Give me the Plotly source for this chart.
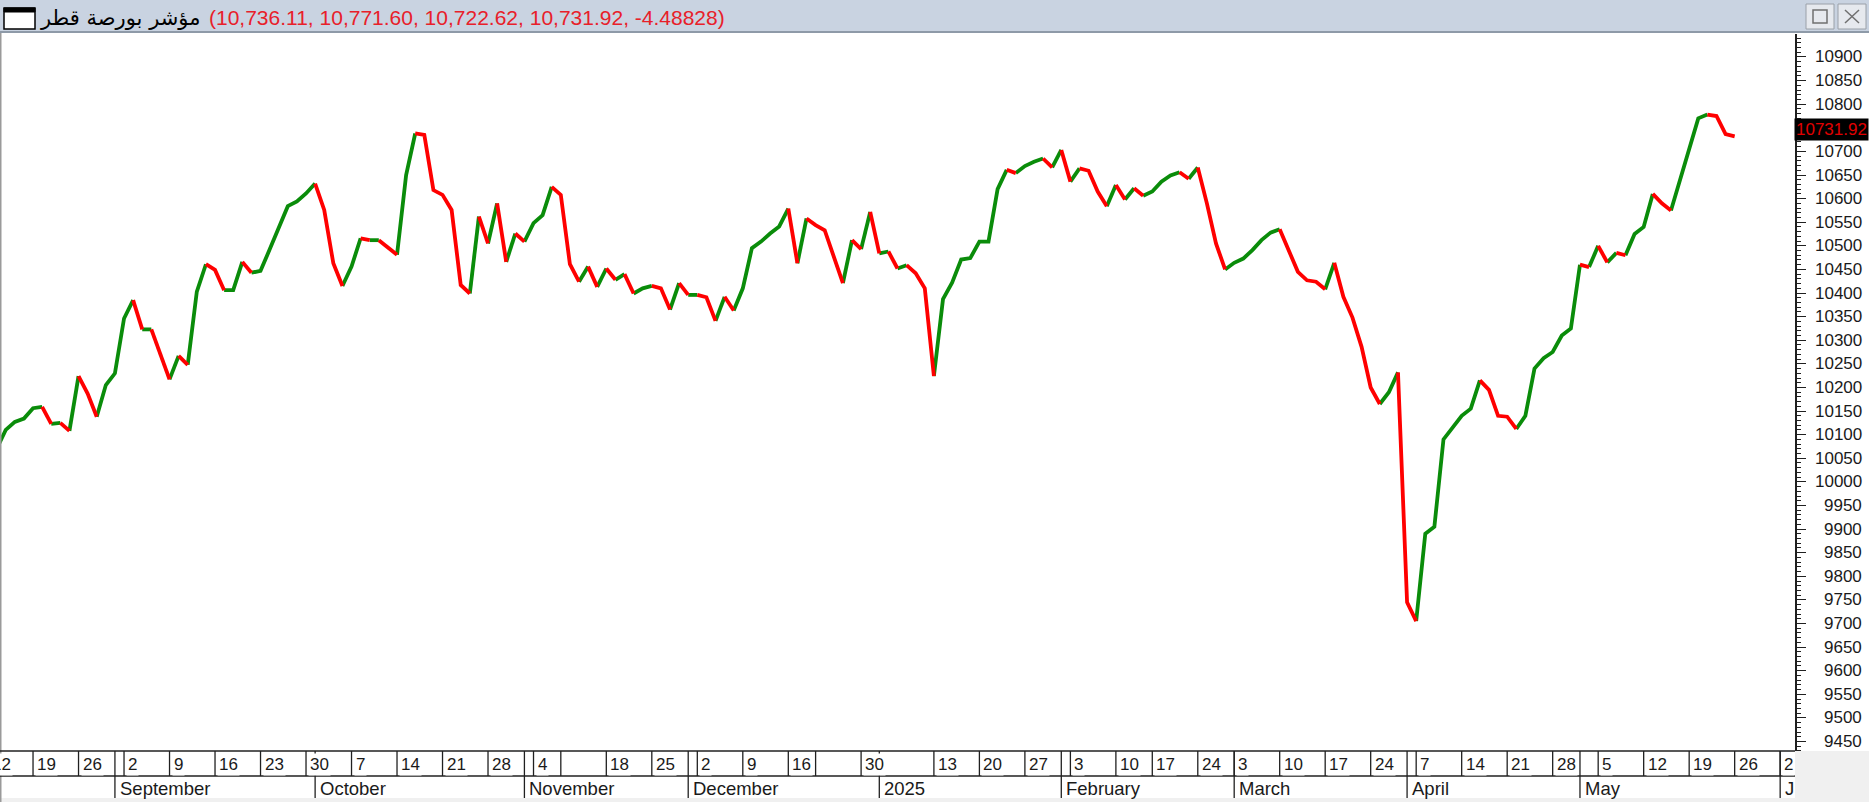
import plotly.graph_objects as go
import pandas as pd

# ---------------- data ----------------
# Qatar trading calendar (Sun-Thu), days absent from the chart
closed_days = ["2024-11-06", "2024-11-07", "2024-12-18", "2024-12-19",
               "2025-01-05", "2025-01-06", "2025-02-11", "2025-03-02",
               "2025-03-30", "2025-03-31", "2025-04-01", "2025-04-02", "2025-04-03"]
trading_days = pd.bdate_range("2024-08-12", "2025-05-26", freq="C",
                              weekmask="Sun Mon Tue Wed Thu", holidays=closed_days)
future_days = pd.bdate_range("2025-05-27", "2025-06-06", freq="C",
                             weekmask="Mon Tue Wed Thu Fri")
calendar = trading_days.append(future_days)

# daily closes from 2024-08-13 to 2025-05-26
close_values = [
    10070, 10110, 10127, 10134, 10156, 10159, 10123, 10125, 10108, 10224,
    10187, 10138, 10205, 10230, 10346, 10385, 10323, 10323, 10270, 10217,
    10267, 10248, 10403, 10461, 10449, 10406, 10406, 10466, 10443, 10447,
    10492, 10537, 10584, 10594, 10611, 10632, 10576, 10463, 10415, 10456,
    10516, 10512, 10512, 10497, 10481, 10650, 10738, 10735, 10618, 10608,
    10576, 10417, 10399, 10562, 10505, 10590, 10466, 10526, 10509, 10548,
    10565, 10625, 10608, 10461, 10424, 10456, 10413, 10452, 10428, 10440,
    10399, 10410, 10415, 10410, 10365, 10421, 10396, 10396, 10391, 10341,
    10392, 10363, 10410, 10495, 10509, 10526, 10541, 10579, 10463, 10558,
    10544, 10533, 10477, 10421, 10512, 10493, 10572, 10484, 10488, 10452,
    10459, 10442, 10410, 10224, 10387, 10422, 10471, 10474, 10509, 10509,
    10620, 10661, 10654, 10669, 10678, 10685, 10666, 10703, 10636, 10664,
    10659, 10615, 10584, 10629, 10598, 10622, 10606, 10615, 10636, 10649,
    10656, 10642, 10666, 10590, 10505, 10450, 10464, 10473, 10491, 10512,
    10528, 10535, 10491, 10445, 10427, 10424, 10408, 10464, 10392, 10348,
    10286, 10200, 10165, 10190, 10232, 9745, 9705, 9890, 9905, 10090,
    10115, 10140, 10155, 10215, 10195, 10140, 10138, 10112, 10140, 10240,
    10262, 10275, 10310, 10325, 10460, 10455, 10500, 10465, 10485, 10480,
    10525, 10540, 10610, 10590, 10575, 10640, 10705, 10770, 10778, 10775,
    10736.41, 10731.92,
]
first_index = 1  # position of the first close in the calendar

title_name = "مؤشر بورصة قطر"
title_values = "(10,736.11, 10,771.60, 10,722.62, 10,731.92, -4.48828)"
last_value = 10731.92
y_tick_values = list(range(9450, 10901, 50))
month_names = {1: "2025", 2: "February", 3: "March", 4: "April", 5: "May", 6: "J",
               8: "August", 9: "September", 10: "October", 11: "November", 12: "December"}

# ---------------- geometry ----------------
W, H = 1869, 802
PL, PR, PT, PB = 1, 1795, 34, 751
X_RANGE = [1.48, 198.63]
Y_RANGE = [9429.9, 10948.7]


def fx(px):
    return (px - PL) / (PR - PL)


def fy(py):
    return (PB - py) / (PB - PT)


def xi(i):  # data index -> paper x
    return (i - X_RANGE[0]) / (X_RANGE[1] - X_RANGE[0])


GREEN = "#0A8C0A"
RED = "#FF0000"

xs = list(range(first_index, first_index + len(close_values)))
gx, gy, rx, ry = [], [], [], []
for k in range(1, len(close_values)):
    up = close_values[k] >= close_values[k - 1]
    tx, ty = (gx, gy) if up else (rx, ry)
    if tx and tx[-1] == xs[k - 1]:
        tx.append(xs[k]); ty.append(close_values[k])
    else:
        if tx:
            tx.append(None); ty.append(None)
        tx += [xs[k - 1], xs[k]]
        ty += [close_values[k - 1], close_values[k]]

fig = go.Figure()
fig.add_trace(go.Scatter(x=gx, y=gy, mode="lines", line=dict(color=GREEN, width=3.8),
                         hoverinfo="skip", showlegend=False))
fig.add_trace(go.Scatter(x=rx, y=ry, mode="lines", line=dict(color=RED, width=3.8),
                         hoverinfo="skip", showlegend=False))

shapes = []
ann = []
AX_FONT = dict(family="Arial, Liberation Sans", size=17, color="#1a1a1a")
MONTH_FONT = dict(family="Arial, Liberation Sans", size=18.5, color="#1a1a1a")

# ---- backgrounds / frames ----
# title bar
shapes.append(dict(type="rect", xref="paper", yref="paper", x0=fx(0), x1=fx(W), y0=fy(31), y1=fy(0),
                   fillcolor="#C9D3E1", line=dict(width=0), layer="below"))
shapes.append(dict(type="line", xref="paper", yref="paper", x0=fx(0), x1=fx(W), y0=fy(32), y1=fy(32),
                   line=dict(color="#8E9AA8", width=2)))
# bottom / right grey panel
shapes.append(dict(type="rect", xref="paper", yref="paper", x0=fx(PR), x1=fx(W), y0=fy(H), y1=fy(PB),
                   fillcolor="#F0F0F0", line=dict(width=0), layer="below"))
shapes.append(dict(type="rect", xref="paper", yref="paper", x0=fx(0), x1=fx(W), y0=fy(H), y1=fy(798),
                   fillcolor="#F0F0F0", line=dict(width=0), layer="below"))
# left border
shapes.append(dict(type="line", xref="paper", yref="paper", x0=fx(0.5), x1=fx(0.5), y0=fy(H), y1=fy(33),
                   line=dict(color="#9A9A9A", width=2)))
# date rows frame
for yy in (PB, 776):
    shapes.append(dict(type="line", xref="paper", yref="paper", x0=fx(0), x1=fx(PR), y0=fy(yy), y1=fy(yy),
                       line=dict(color="#202020", width=1.5)))

# window icon
shapes.append(dict(type="rect", xref="paper", yref="paper", x0=fx(4), x1=fx(35), y0=fy(29), y1=fy(8),
                   fillcolor="white", line=dict(color="black", width=1.5)))
shapes.append(dict(type="rect", xref="paper", yref="paper", x0=fx(4), x1=fx(35), y0=fy(12), y1=fy(8),
                   fillcolor="black", line=dict(color="black", width=1)))
# window buttons
for bx0 in (1806, 1838):
    shapes.append(dict(type="rect", xref="paper", yref="paper", x0=fx(bx0), x1=fx(bx0 + 28),
                       y0=fy(29), y1=fy(4), fillcolor="#E6E9EE", line=dict(color="#9AA0A8", width=1)))
shapes.append(dict(type="rect", xref="paper", yref="paper", x0=fx(1813), x1=fx(1827), y0=fy(23), y1=fy(10),
                   fillcolor="rgba(0,0,0,0)", line=dict(color="#707070", width=1.5)))
shapes.append(dict(type="line", xref="paper", yref="paper", x0=fx(1845), x1=fx(1859), y0=fy(10), y1=fy(23),
                   line=dict(color="#707070", width=1.5)))
shapes.append(dict(type="line", xref="paper", yref="paper", x0=fx(1845), x1=fx(1859), y0=fy(23), y1=fy(10),
                   line=dict(color="#707070", width=1.5)))

# title texts
ann.append(dict(xref="paper", yref="paper", x=fx(38), y=fy(18), xanchor="left", yanchor="middle",
                text=title_name, showarrow=False,
                font=dict(family="DejaVu Sans", size=21, color="#000000")))
ann.append(dict(xref="paper", yref="paper", x=fx(207), y=fy(18), xanchor="left", yanchor="middle",
                text=title_values, showarrow=False,
                font=dict(family="Arial, Liberation Sans", size=21, color="#E8202A")))

# ---- date axis ----
idx = list(range(len(calendar)))
month_starts = [i for i in idx[1:] if calendar[i].month != calendar[i - 1].month]
for i in month_starts:
    shapes.append(dict(type="line", xref="paper", yref="paper", x0=xi(i), x1=xi(i), y0=fy(798), y1=fy(PB),
                       line=dict(color="#202020", width=1.3)))
    ann.append(dict(xref="paper", yref="paper", x=xi(i) + fx(3) - fx(0), y=fy(788),
                    xanchor="left", yanchor="middle", text=month_names[calendar[i].month],
                    showarrow=False, font=MONTH_FONT))

week_ticks = [i for i in idx if calendar[i].weekday() == 0]
prev = None
for i in week_ticks:
    shapes.append(dict(type="line", xref="paper", yref="paper", x0=xi(i), x1=xi(i), y0=fy(776), y1=fy(PB),
                       line=dict(color="#202020", width=1.3)))
    if prev is None or i - prev >= 4:
        ann.append(dict(xref="paper", yref="paper", x=xi(i) + fx(2) - fx(0), y=fy(764),
                        xanchor="left", yanchor="middle", text=str(calendar[i].day),
                        showarrow=False, font=AX_FONT, bgcolor="white", borderpad=1))
    prev = i

# ---- y labels (right aligned) ----
for v in y_tick_values:
    ann.append(dict(xref="paper", yref="y", x=fx(1864), y=v, xanchor="right", yanchor="middle",
                    text=str(v), showarrow=False, font=AX_FONT))
# last value marker
ann.append(dict(xref="paper", yref="y", x=fx(1869), y=last_value + 15, xanchor="right", yanchor="middle",
                text="%.2f" % last_value, showarrow=False, bgcolor="#000000", borderpad=1,
                font=dict(family="Arial, Liberation Sans", size=17, color="#E00000")))

fig.update_layout(
    width=W, height=H,
    margin=dict(l=PL, r=W - PR, t=PT, b=H - PB),
    paper_bgcolor="white", plot_bgcolor="white",
    xaxis=dict(range=X_RANGE, showgrid=False, zeroline=False, showticklabels=False,
               ticks="", showline=False, fixedrange=True),
    yaxis=dict(range=Y_RANGE, side="right", showgrid=False, zeroline=False, showticklabels=False,
               showline=True, linecolor="#202020", linewidth=1.5,
               ticks="outside", ticklen=9, tickcolor="#202020", tickwidth=1.3,
               tick0=0, dtick=50,
               minor=dict(ticks="outside", ticklen=4, dtick=10, tickcolor="#202020", tickwidth=1)),
    shapes=shapes, annotations=ann, showlegend=False,
)

fig.write_html("out.html", config={"displayModeBar": False},
               post_script="document.body.style.margin='0';document.body.style.padding='0';")
